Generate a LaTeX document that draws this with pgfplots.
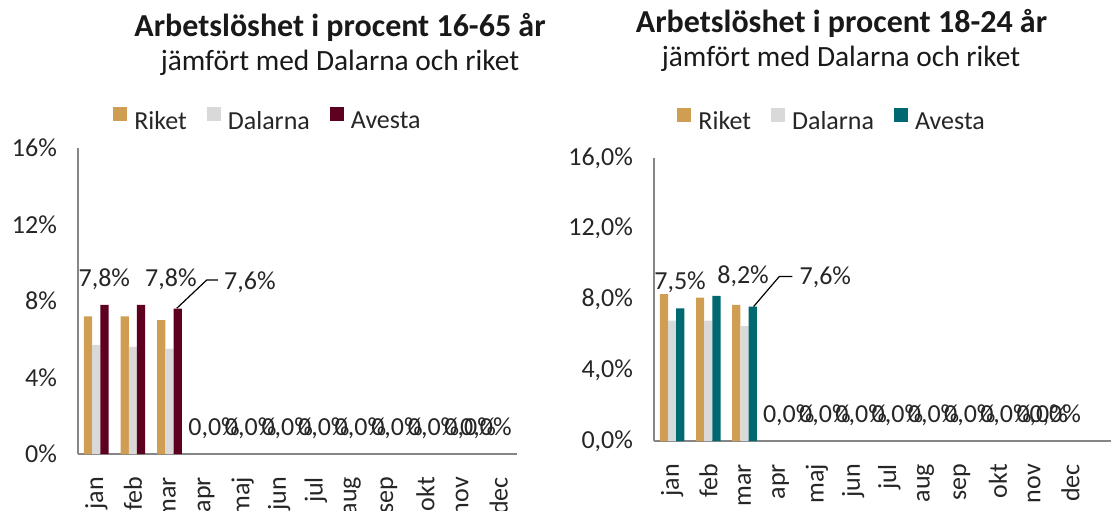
\documentclass[border=0pt]{standalone}
\usepackage{fontspec}
\setmainfont{Carlito}
\usepackage{pgfplots}
\pgfplotsset{compat=1.18}
\definecolor{riket}{RGB}{208,158,82}
\definecolor{dalarna}{RGB}{217,217,217}
\definecolor{avestaA}{RGB}{94,0,32}
\definecolor{avestaB}{RGB}{0,104,112}
\definecolor{axgray}{RGB}{134,134,134}
\definecolor{txt}{RGB}{38,38,38}
\pgfplotsset{
  sq legend/.style={legend image code/.code={\fill[##1,draw=none] (0pt,0.3pt) rectangle (7pt,7.3pt);}},
  bR/.style={ybar, bar width=4.1pt, bar shift=-4.1pt, fill=riket, draw=none, sq legend},
  bD/.style={ybar, bar width=4.1pt, bar shift=0pt, fill=dalarna, draw=none, sq legend},
  bA/.style={ybar, bar width=4.1pt, bar shift=4.1pt, fill=#1, draw=none, sq legend},
  lbl/.style={draw=none, mark=none, forget plot, nodes near coords, point meta=explicit symbolic,
     every node near coord/.append style={anchor=center, font=\fontsize{13}{15}\selectfont, text=txt, inner sep=0pt}},
  mychart/.style={
    scale only axis, clip=false,
    xmin=-0.5, ymin=0, ymax=16,
    axis x line*=bottom, axis y line*=left,
    axis line style={draw=axgray, line width=0.9pt, -},
    xtick={0,...,11},
    xticklabels={jan,feb,mar,apr,maj,jun,jul,aug,sep,okt,nov,dec},
    ytick={0,4,8,12,16},
    major tick length=0pt,
    tick label style={font=\fontsize{13}{15}\selectfont, text=txt},
    xticklabel style={rotate=90, anchor=east},
    xticklabel shift=8pt,
    yticklabel shift=7pt,
    legend style={draw=none, fill=none, font=\fontsize{13}{15}\selectfont, text=txt,
      legend columns=3, anchor=center,
      /tikz/every odd column/.append style={column sep=1.5pt},
      /tikz/every even column/.append style={column sep=8pt}},
  }
}
\begin{document}
\begin{tikzpicture}
\useasboundingbox (0,0) rectangle (555.5pt,255pt);
\clip (0,0) rectangle (555.5pt,255pt);
% Left chart
\begin{axis}[mychart, at={(39pt,28pt)}, anchor=south west,
  width=219.5pt, height=153pt, xmax=11.5,
  yticklabels={0\%,4\%,8\%,12\%,16\%},
  legend style={at={(0.435,1.085)}}]
\addplot[bR] coordinates {(0,7.2) (1,7.2) (2,7.0)};
\addlegendentry{Riket}
\addplot[bD] coordinates {(0,5.7) (1,5.6) (2,5.5)};
\addlegendentry{Dalarna}
\addplot[bA=avestaA] coordinates {(0,7.8) (1,7.8) (2,7.6)};
\addlegendentry{Avesta}
\addplot[lbl] coordinates {(0.22,9.15) [7,8\%] (2.04,9.15) [7,8\%] (4.2,9.0) [7,6\%]
  (3.22,1.34) [0,0\%] (4.22,1.34) [0,0\%] (5.22,1.34) [0,0\%] (6.22,1.34) [0,0\%]
  (7.22,1.34) [0,0\%] (8.22,1.34) [0,0\%] (9.22,1.34) [0,0\%] (10.22,1.34) [0,0\%]
  (10.65,1.34) [0,0\%]};
\draw[black, line width=0.6pt] (axis cs:2.2,7.62) -- (axis cs:3.02,9.1) -- (axis cs:3.32,9.1);
\end{axis}
% Right chart
\begin{axis}[mychart, at={(327pt,34.5pt)}, anchor=south west,
  width=228.5pt, height=141.5pt, xmax=12.12,
  yticklabels={0{,}0\%,4{,}0\%,8{,}0\%,12{,}0\%,16{,}0\%},
  legend style={at={(0.392,1.126)}}]
\addplot[bR] coordinates {(0,8.3) (1,8.1) (2,7.7)};
\addlegendentry{Riket}
\addplot[bD] coordinates {(0,6.8) (1,6.8) (2,6.5)};
\addlegendentry{Dalarna}
\addplot[bA=avestaB] coordinates {(0,7.5) (1,8.2) (2,7.6)};
\addlegendentry{Avesta}
\addplot[lbl] coordinates {(0.22,8.96) [7,5\%] (1.96,9.3) [8,2\%] (4.23,9.24) [7,6\%]
  (3.22,1.44) [0,0\%] (4.22,1.44) [0,0\%] (5.22,1.44) [0,0\%] (6.22,1.44) [0,0\%]
  (7.22,1.44) [0,0\%] (8.22,1.44) [0,0\%] (9.22,1.44) [0,0\%] (10.22,1.44) [0,0\%]
  (10.58,1.44) [0,0\%]};
\draw[black, line width=0.6pt] (axis cs:2.25,7.6) -- (axis cs:2.96,9.3) -- (axis cs:3.32,9.3);
\end{axis}
% Titles
\node[anchor=base, font=\bfseries\fontsize{16}{19}\selectfont, text=black!90] at (170pt,236.6pt) {Arbetslöshet i procent 16-65 år};
\node[anchor=base, font=\fontsize{14.7}{17}\selectfont, text=black!90] at (170pt,219.5pt) {jämfört med Dalarna och riket};
\node[anchor=base, font=\bfseries\fontsize{16}{19}\selectfont, text=black!90] at (420.75pt,238.5pt) {Arbetslöshet i procent 18-24 år};
\node[anchor=base, font=\fontsize{14.7}{17}\selectfont, text=black!90] at (420.5pt,222pt) {jämfört med Dalarna och riket};
\end{tikzpicture}
\end{document}
